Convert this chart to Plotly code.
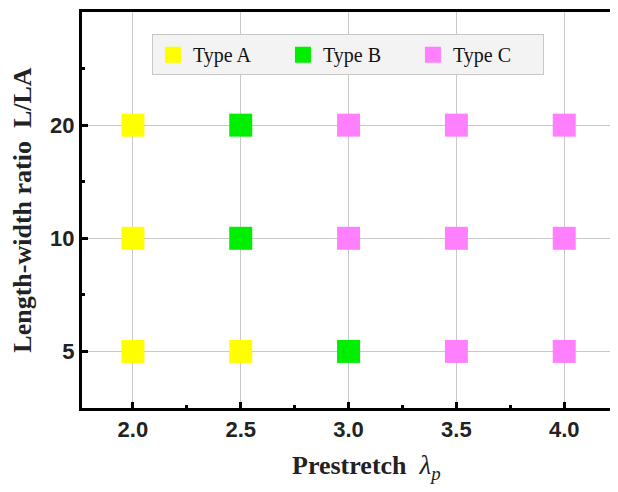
import plotly.graph_objects as go

# Data
y_categories = ["5", "10", "20"]
typeA_x = [2.0, 2.0, 2.0, 2.5]
typeA_y = ["5", "10", "20", "5"]
typeB_x = [2.5, 2.5, 3.0]
typeB_y = ["10", "20", "5"]
typeC_x = [3.0, 3.0, 3.5, 3.5, 3.5, 4.0, 4.0, 4.0]
typeC_y = ["10", "20", "5", "10", "20", "5", "10", "20"]
x_ticks = [2.0, 2.5, 3.0, 3.5, 4.0]
x_minor = [2.25, 2.75, 3.25, 3.75]
y_minor = [0.5, 1.5, 2.5]

cat_index = {c: i for i, c in enumerate(y_categories)}

series = [
    ("Type A", typeA_x, typeA_y, "#FFFF00"),
    ("Type B", typeB_x, typeB_y, "#00EE00"),
    ("Type C", typeC_x, typeC_y, "#FF80FF"),
]

fig = go.Figure()
for name, xs, ys, col in series:
    fig.add_trace(go.Scatter(
        x=xs, y=[cat_index[v] for v in ys], mode="markers", name=name,
        marker=dict(symbol="square", size=23, color=col, line=dict(width=0)),
    ))

axis_common = dict(
    showline=True, linecolor="black", linewidth=3, mirror=True,
    showgrid=True, gridcolor="#c8c8c8", gridwidth=1,
    ticks="inside", ticklen=6, tickwidth=3, tickcolor="black",
    zeroline=False, automargin=False,
    tickfont=dict(family="Liberation Sans", size=22, color="#222", weight="bold"),
)
title_font = dict(family="Liberation Serif", size=26, color="#222", weight="bold")
minor_common = dict(ticks="inside", ticklen=3, tickwidth=3, tickcolor="black", showgrid=False)

fig.update_layout(
    width=610, height=476,
    margin=dict(l=74, r=2, t=4, b=76, autoexpand=False),
    paper_bgcolor="white", plot_bgcolor="white",
    xaxis=dict(range=[1.764, 4.24], tickvals=x_ticks, ticktext=[f"{v:.1f}" for v in x_ticks],
               minor=dict(tickvals=x_minor, **minor_common),
               **axis_common),
    yaxis=dict(range=[-0.5, 3.0], tickvals=list(range(len(y_categories))), ticktext=y_categories,
               title=dict(text="Length-width ratio  L/LA", font=title_font, standoff=19),
               minor=dict(tickvals=y_minor, **minor_common),
               **axis_common),
    legend=dict(orientation="h", x=0.131, y=0.944, xanchor="left", yanchor="top",
                bgcolor="#f3f3f3", bordercolor="#c8c8c8", borderwidth=1,
                font=dict(family="Liberation Serif", size=20, color="#111"),
                entrywidth=85, itemsizing="trace"),
    showlegend=True,
    annotations=[dict(
        text='Prestretch  <span style="font-weight:normal;font-size:27px"><i>λ</i><sub><i>p</i></sub></span>',
        xref="paper", yref="paper", x=0.532, y=-0.149, xanchor="center", yanchor="middle",
        showarrow=False, font=title_font,
    )],
)

fig.write_html("out.html")
